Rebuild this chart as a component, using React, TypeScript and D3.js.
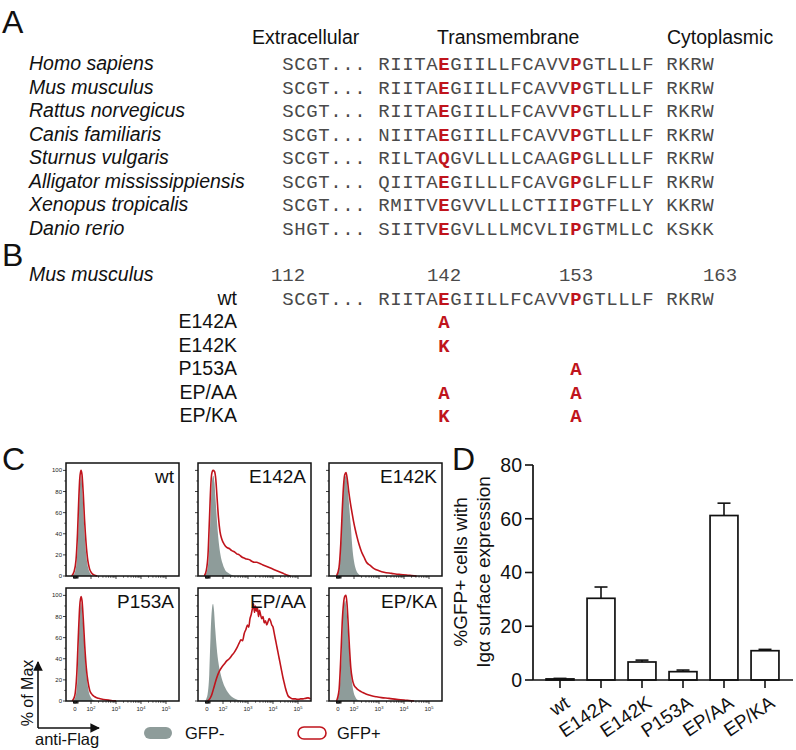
import React from "react";
import * as d3 from "d3";

const SANS = "'Liberation Sans', Arial, Helvetica, sans-serif";
const MONO = "'Liberation Mono', 'Courier New', monospace";
const RED = "#c0141c";
const GREY_FILL = "#8e9c9a";
const SEQ_COLOR = "#4a4a4a";

// ---------- Panel A data ----------
const regionHeaders = ["Extracellular", "Transmembrane", "Cytoplasmic"];
const species = [
  "Homo sapiens",
  "Mus musculus",
  "Rattus norvegicus",
  "Canis familiaris",
  "Sturnus vulgaris",
  "Alligator mississippiensis",
  "Xenopus tropicalis",
  "Danio rerio",
];
const extracellularSeq = ["SCGT...", "SCGT...", "SCGT...", "SCGT...", "SCGT...", "SCGT...", "SCGT...", "SHGT..."];
const transmembraneSeq = [
  "RIITAEGIILLFCAVVPGTLLLF",
  "RIITAEGIILLFCAVVPGTLLLF",
  "RIITAEGIILLFCAVVPGTLLLF",
  "NIITAEGIILLFCAVVPGTLLLF",
  "RILTAQGVLLLLCAAGPGLLLLF",
  "QIITAEGILLLFCAVGPGLFLLF",
  "RMITVEGVVLLLCTIIPGTFLLY",
  "SIITVEGVLLLMCVLIPGTMLLC",
];
const cytoplasmicSeq = ["RKRW", "RKRW", "RKRW", "RKRW", "RKRW", "RKRW", "KKRW", "KSKK"];
const conservedSlots = [13, 24];

// ---------- Panel B data ----------
const residueNumbers = ["112", "142", "153", "163"];
const residueSlots = [0, 13, 24, 36];
const wtExtracellular = "SCGT...";
const wtTransmembrane = "RIITAEGIILLFCAVVPGTLLLF";
const wtCytoplasmic = "RKRW";
const mutants = ["E142A", "E142K", "P153A", "EP/AA", "EP/KA"];
const mutantAt142 = ["A", "K", "", "A", "K"];
const mutantAt153 = ["", "", "A", "A", "A"];

// ---------- Panel C data (u = display decade units; y = % of max) ----------
const histSamples = ["wt", "E142A", "E142K", "P153A", "EP/AA", "EP/KA"];

const wtNeg = [[1.25,0],[1.35,3],[1.42,12],[1.48,35],[1.53,70],[1.57,90],[1.6,95],[1.63,91],[1.67,74],[1.72,50],[1.78,28],[1.85,12],[1.92,5],[2.0,1.5],[2.1,0]];
const wtPos = [[1.22,0],[1.32,4],[1.4,15],[1.46,40],[1.51,72],[1.55,92],[1.6,100],[1.64,96],[1.69,78],[1.74,54],[1.8,32],[1.87,15],[1.94,7],[2.02,3],[2.12,1],[2.25,0]];

const e142aNeg = [[1.25,0],[1.35,4],[1.42,15],[1.48,45],[1.53,78],[1.58,93],[1.62,95],[1.66,88],[1.71,70],[1.77,48],[1.83,32],[1.9,20],[1.98,12],[2.08,6],[2.2,3],[2.35,1],[2.5,0]];
const e142aPos = [[1.25,0],[1.33,5],[1.4,20],[1.46,55],[1.51,85],[1.55,97],[1.6,100],[1.66,99],[1.71,92],[1.76,75],[1.82,55],[1.88,42],[1.95,35],[2.05,30],[2.15,27],[2.25,26],[2.35,24],[2.45,23],[2.55,21],[2.65,20],[2.75,18],[2.85,17],[2.95,16],[3.05,15.5],[3.15,14],[3.25,13],[3.35,13],[3.45,12],[3.55,11],[3.65,10],[3.75,9],[3.85,8],[3.95,7],[4.05,6],[4.15,5],[4.25,4],[4.35,3],[4.45,2],[4.55,1],[4.7,0]];

const e142kNeg = [[1.3,0],[1.42,10],[1.5,40],[1.57,80],[1.63,93],[1.68,95],[1.74,85],[1.8,68],[1.87,48],[1.93,28],[2.0,14],[2.08,6],[2.18,2],[2.3,0]];
const e142kPos = [[1.3,0],[1.4,8],[1.47,30],[1.53,62],[1.58,85],[1.63,96],[1.68,98],[1.73,92],[1.79,80],[1.85,70],[1.92,60],[1.98,52],[2.05,44],[2.12,37],[2.2,30],[2.3,23],[2.4,18],[2.5,13],[2.65,10],[2.8,7],[3.0,5],[3.2,3.5],[3.5,2.5],[3.8,1.5],[4.1,1],[4.3,0.5],[4.5,0]];

const p153aNeg = [[1.28,0],[1.38,4],[1.45,18],[1.51,55],[1.56,85],[1.6,93],[1.64,88],[1.69,70],[1.75,45],[1.82,25],[1.9,10],[1.98,4],[2.08,1],[2.2,0]];
const p153aPos = [[1.25,0],[1.35,5],[1.43,25],[1.5,65],[1.55,90],[1.6,99],[1.64,95],[1.69,78],[1.75,52],[1.81,32],[1.88,18],[1.95,10],[2.05,6],[2.15,4],[2.3,2.5],[2.5,1.5],[2.7,0.8],[2.9,0.3],[3.0,0]];

const epaaNeg = [[1.28,0],[1.38,6],[1.45,25],[1.5,60],[1.55,85],[1.6,92],[1.64,86],[1.69,68],[1.75,50],[1.82,36],[1.9,26],[1.98,19],[2.08,13],[2.2,8],[2.35,4],[2.5,2],[2.7,0.5],[2.85,0]];
const epaaPos = [[1.38,0],[1.47,2],[1.55,6],[1.65,14],[1.75,22],[1.85,28],[1.95,32],[2.05,35],[2.15,38],[2.25,40],[2.35,43],[2.45,46],[2.55,50],[2.65,55],[2.72,58],[2.78,57],[2.85,64],[2.92,68],[2.98,72],[3.03,70],[3.08,78],[3.13,82],[3.18,88],[3.22,92],[3.26,84],[3.3,90],[3.34,85],[3.38,88],[3.42,80],[3.46,86],[3.5,82],[3.55,78],[3.6,80],[3.65,74],[3.7,76],[3.75,72],[3.8,75],[3.85,78],[3.9,76],[3.95,72],[4.0,70],[4.05,64],[4.1,58],[4.15,52],[4.2,46],[4.25,40],[4.3,34],[4.35,28],[4.4,22],[4.45,17],[4.5,12],[4.55,8],[4.6,5],[4.7,3],[4.8,2],[4.9,2],[5.0,1.5],[5.1,2],[5.2,2],[5.3,2.5],[5.4,3],[5.5,2]];

const epkaNeg = [[1.3,0],[1.42,10],[1.5,42],[1.56,80],[1.61,93],[1.65,95],[1.7,86],[1.76,66],[1.83,42],[1.9,22],[1.97,10],[2.05,4],[2.15,1],[2.3,0]];
const epkaPos = [[1.3,0],[1.4,10],[1.47,40],[1.53,75],[1.58,92],[1.63,99],[1.68,100],[1.72,92],[1.77,72],[1.82,50],[1.87,32],[1.93,21],[2.0,15],[2.1,12],[2.2,10],[2.35,8],[2.5,6.5],[2.7,5],[2.9,4],[3.1,3.2],[3.4,2.5],[3.7,1.5],[4.0,1],[4.2,0.5],[4.4,0]];

const histNeg = [wtNeg, e142aNeg, e142kNeg, p153aNeg, epaaNeg, epkaNeg];
const histPos = [wtPos, e142aPos, e142kPos, p153aPos, epaaPos, epkaPos];

const histYTicks = [0, 20, 40, 60, 80, 100];
const histYMinor = [10, 30, 50, 70, 90];
const histXTickU = [1.36, 2, 3, 4, 5];
const histXTickBase = ["0", "10", "10", "10", "10"];
const histXTickExp = ["", "2", "3", "4", "5"];
const histZeroTicks = [1.3, 1.33, 1.36, 1.39, 1.42, 1.45, 1.48];
const legendLabels = ["GFP-", "GFP+"];

// ---------- Panel D data ----------
const barCategories = ["wt", "E142A", "E142K", "P153A", "EP/AA", "EP/KA"];
const barMeans = [0.4, 30.4, 6.7, 3.1, 61.2, 10.9];
const barErrors = [0.2, 4.2, 0.7, 0.6, 4.6, 0.5];
const barYTicks = [0, 20, 40, 60, 80];

// ---------- layout ----------
const slotX = d3.scaleLinear().domain([0, 1]).range([288, 300]);
const rowBaseA = d3.scaleLinear().domain([0, 1]).range([70, 93.5]);
const rowBaseB = d3.scaleLinear().domain([0, 1]).range([281, 304.5]);

function SeqRow({ ext, tm, cyto, y }: { ext: string; tm: string; cyto: string; y: number }) {
  const full = `${ext} ${tm} ${cyto}`;
  return (
    <g>
      {full.split("").map((c, i) =>
        c === " " ? null : (
          <text
            key={i}
            x={slotX(i)}
            y={y}
            textAnchor="middle"
            fontFamily={MONO}
            fontSize={19}
            fontWeight={conservedSlots.includes(i) ? "bold" : "normal"}
            fill={conservedSlots.includes(i) ? RED : SEQ_COLOR}
          >
            {c}
          </text>
        )
      )}
    </g>
  );
}

const HW = 113;
const HH = 113;
const colX = [66, 198, 329];
const rowY = [463, 588];
const xU = d3.scaleLinear().domain([1.0, 5.52]).range([0, HW]);
const yP = d3.scaleLinear().domain([0, 107]).range([HH, 0]);

function Histo({ idx }: { idx: number }) {
  const col = idx % 3;
  const row = Math.floor(idx / 3);
  const x0 = colX[col];
  const y0 = rowY[row];
  const area = d3
    .area<number[]>()
    .x((d) => xU(d[0]))
    .y0(HH)
    .y1((d) => yP(d[1]))
    .curve(d3.curveMonotoneX);
  const line = d3
    .line<number[]>()
    .x((d) => xU(d[0]))
    .y((d) => yP(d[1]))
    .curve(d3.curveMonotoneX);
  const minorU: number[] = [];
  [2, 3, 4].forEach((d) => {
    for (let k = 2; k <= 9; k++) minorU.push(d + Math.log10(k));
  });
  return (
    <g transform={`translate(${x0},${y0})`}>
      <path d={area(histNeg[idx] as number[][]) || ""} fill={GREY_FILL} />
      <path d={line(histPos[idx] as number[][]) || ""} fill="none" stroke={RED} strokeWidth={1.6} />
      <rect x={0} y={0} width={HW} height={HH} fill="none" stroke="#111" strokeWidth={1.5} />
      {histYTicks.map((t) => (
        <line key={"ym" + t} x1={-3} x2={0} y1={yP(t)} y2={yP(t)} stroke="#111" strokeWidth={0.8} />
      ))}
      {histYMinor.map((t) => (
        <line key={"yn" + t} x1={-1.8} x2={0} y1={yP(t)} y2={yP(t)} stroke="#111" strokeWidth={0.6} />
      ))}
      {col === 0 &&
        histYTicks.map((t) => (
          <text key={"yl" + t} x={-4} y={yP(t)} dy="0.35em" textAnchor="end" fontFamily={SANS} fontSize={6} fill="#222">
            {t}
          </text>
        ))}
      {histXTickU.map((u) => (
        <line key={"xm" + u} x1={xU(u)} x2={xU(u)} y1={HH} y2={HH + 3} stroke="#111" strokeWidth={0.8} />
      ))}
      {minorU.map((u, i) => (
        <line key={"xn" + i} x1={xU(u)} x2={xU(u)} y1={HH} y2={HH + 1.8} stroke="#111" strokeWidth={0.6} />
      ))}
      {histZeroTicks.map((u, i) => (
        <line key={"xz" + i} x1={xU(u)} x2={xU(u)} y1={HH} y2={HH + 2.5} stroke="#111" strokeWidth={1} />
      ))}
      {row === 1 &&
        histXTickU.map((u, i) => (
          <text key={"xl" + i} x={xU(u)} y={HH + 10} textAnchor="middle" fontFamily={SANS} fontSize={6} fill="#222">
            <tspan>{histXTickBase[i]}</tspan>
            {histXTickExp[i] && (
              <tspan dy={-2} fontSize={4}>
                {histXTickExp[i]}
              </tspan>
            )}
          </text>
        ))}
      <text x={HW - 5} y={20} textAnchor="end" fontFamily={SANS} fontSize={19} fill="#111">
        {histSamples[idx]}
      </text>
    </g>
  );
}

const yD = d3.scaleLinear().domain([0, 80]).range([680, 465]);
const xD = d3.scaleBand<string>().domain(barCategories).range([539.5, 785.5]).paddingInner(0.32).paddingOuter(0.16);

export default function App() {
  return (
    <svg width={796} height={750} style={{ position: "absolute", left: 0, top: 0, background: "#fff" }}>
      <defs>
        <marker id="arrowHead" viewBox="0 0 10 10" refX={9} refY={5} markerWidth={6} markerHeight={6} orient="auto">
          <path d="M0,0 L10,5 L0,10 z" fill="#111" />
        </marker>
      </defs>
      <rect width={796} height={750} fill="#fff" />
      {/* Panel labels */}
      <text x={2} y={33} fontFamily={SANS} fontSize={32} fill="#111">A</text>
      <text x={2} y={266} fontFamily={SANS} fontSize={32} fill="#111">B</text>
      <text x={2} y={470} fontFamily={SANS} fontSize={32} fill="#111">C</text>
      <text x={452} y={470} fontFamily={SANS} fontSize={32} fill="#111">D</text>

      {/* Panel A */}
      {regionHeaders.map((h, i) => (
        <text key={h} x={[252, 437, 667][i]} y={44} fontFamily={SANS} fontSize={19.5} fill="#111">
          {h}
        </text>
      ))}
      {species.map((s, i) => (
        <g key={s}>
          <text x={29} y={rowBaseA(i)} fontFamily={SANS} fontStyle="italic" fontSize={19.5} fill="#111">
            {s}
          </text>
          <SeqRow ext={extracellularSeq[i]} tm={transmembraneSeq[i]} cyto={cytoplasmicSeq[i]} y={rowBaseA(i)} />
        </g>
      ))}

      {/* Panel B */}
      <text x={29} y={rowBaseB(0)} fontFamily={SANS} fontStyle="italic" fontSize={19.5} fill="#111">
        Mus musculus
      </text>
      {residueNumbers.map((n, i) => (
        <text key={n} x={slotX(residueSlots[i])} y={rowBaseB(0)} textAnchor="middle" fontFamily={MONO} fontSize={19} fill={SEQ_COLOR}>
          {n}
        </text>
      ))}
      <text x={237} y={rowBaseB(1)} textAnchor="end" fontFamily={SANS} fontSize={19.5} fill="#111">wt</text>
      <SeqRow ext={wtExtracellular} tm={wtTransmembrane} cyto={wtCytoplasmic} y={rowBaseB(1)} />
      {mutants.map((m, i) => (
        <g key={m}>
          <text x={237} y={rowBaseB(i + 2)} textAnchor="end" fontFamily={SANS} fontSize={19.5} fill="#111">
            {m}
          </text>
          {mutantAt142[i] && (
            <text x={slotX(conservedSlots[0])} y={rowBaseB(i + 2)} textAnchor="middle" fontFamily={MONO} fontSize={19} fontWeight="bold" fill={RED}>
              {mutantAt142[i]}
            </text>
          )}
          {mutantAt153[i] && (
            <text x={slotX(conservedSlots[1])} y={rowBaseB(i + 2)} textAnchor="middle" fontFamily={MONO} fontSize={19} fontWeight="bold" fill={RED}>
              {mutantAt153[i]}
            </text>
          )}
        </g>
      ))}

      {/* Panel C */}
      {histSamples.map((s, i) => (
        <Histo key={s} idx={i} />
      ))}
      <line x1={38} y1={728} x2={38} y2={662} stroke="#111" strokeWidth={1.6} markerEnd="url(#arrowHead)" />
      <line x1={38} y1={728} x2={99} y2={728} stroke="#111" strokeWidth={1.6} markerEnd="url(#arrowHead)" />
      <text transform="translate(33,693) rotate(-90)" textAnchor="middle" fontFamily={SANS} fontSize={16} fill="#111">
        % of Max
      </text>
      <text x={35} y={745} fontFamily={SANS} fontSize={16.5} fill="#111">anti-Flag</text>
      <rect x={144} y={727} width={28} height={12} rx={6} fill={GREY_FILL} />
      <text x={185} y={739} fontFamily={SANS} fontSize={16.5} fill="#111">{legendLabels[0]}</text>
      <rect x={298} y={727} width={28} height={12} rx={6} fill="#fff" stroke={RED} strokeWidth={1.6} />
      <text x={337} y={739} fontFamily={SANS} fontSize={16.5} fill="#111">{legendLabels[1]}</text>

      {/* Panel D */}
      {barCategories.map((c, i) => {
        const x = xD(c) as number;
        const bw = xD.bandwidth();
        const cx = x + bw / 2;
        return (
          <g key={c}>
            <line x1={cx} x2={cx} y1={yD(barMeans[i])} y2={yD(barMeans[i] + barErrors[i])} stroke="#111" strokeWidth={1.6} />
            <line x1={cx - 6.5} x2={cx + 6.5} y1={yD(barMeans[i] + barErrors[i])} y2={yD(barMeans[i] + barErrors[i])} stroke="#111" strokeWidth={1.6} />
            <rect x={x} y={yD(barMeans[i])} width={bw} height={yD(0) - yD(barMeans[i])} fill="#fff" stroke="#111" strokeWidth={1.7} />
            <line x1={cx} x2={cx} y1={yD(0)} y2={yD(0) + 8} stroke="#111" strokeWidth={1.6} />
            <text
              transform={`translate(${cx + 11},${706}) rotate(-34)`}
              textAnchor="end"
              fontFamily={SANS}
              fontSize={19}
              fill="#111"
            >
              {c}
            </text>
          </g>
        );
      })}
      <line x1={533} x2={793} y1={yD(0)} y2={yD(0)} stroke="#111" strokeWidth={1.7} />
      <line x1={533} x2={533} y1={yD(0)} y2={yD(80)} stroke="#111" strokeWidth={1.7} />
      {barYTicks.map((t) => (
        <g key={t}>
          <line x1={525} x2={533} y1={yD(t)} y2={yD(t)} stroke="#111" strokeWidth={1.6} />
          <text x={522} y={yD(t)} dy="0.35em" textAnchor="end" fontFamily={SANS} fontSize={19.5} fill="#111">
            {t}
          </text>
        </g>
      ))}
      <text transform="translate(467,572) rotate(-90)" textAnchor="middle" fontFamily={SANS} fontSize={19} fill="#111">
        %GFP+ cells with
      </text>
      <text transform="translate(490,572) rotate(-90)" textAnchor="middle" fontFamily={SANS} fontSize={19} fill="#111">
        Igα surface expression
      </text>
    </svg>
  );
}
